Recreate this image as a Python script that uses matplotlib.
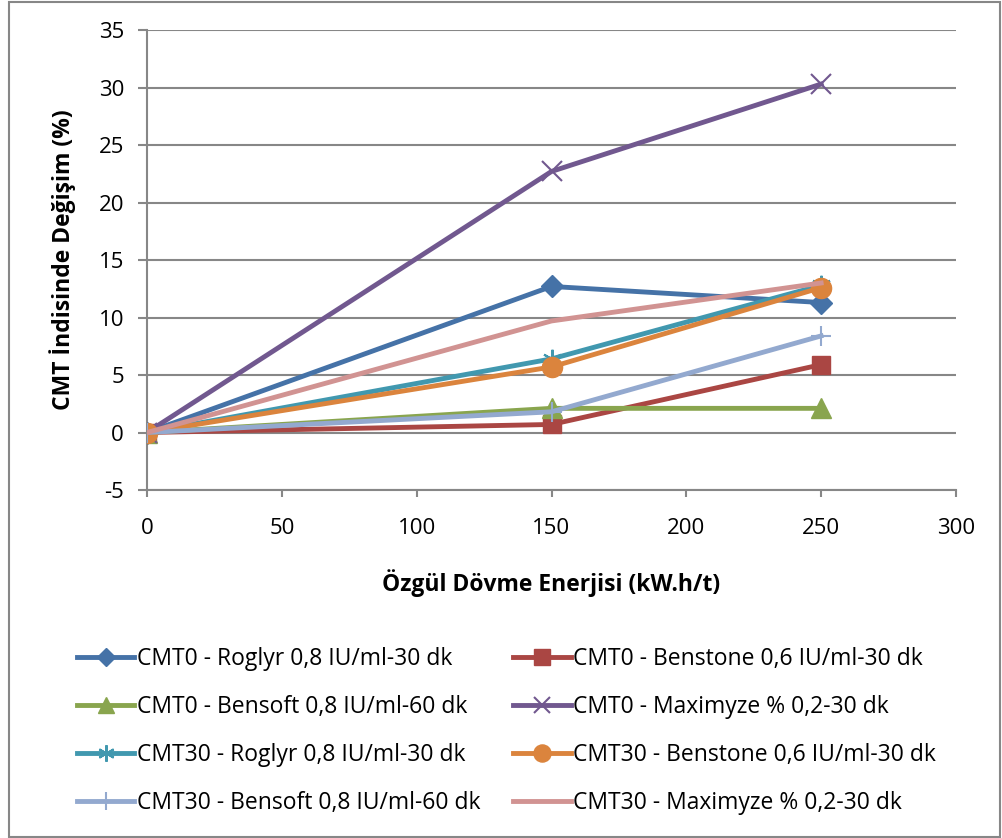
import matplotlib.pyplot as plt
from matplotlib.patches import Rectangle

plt.rcParams['font.family'] = ['Open Sans', 'DejaVu Sans']
plt.rcParams['axes.unicode_minus'] = False

# specific beating energy (kW.h/t)
energy = [0, 150, 250]

labels = [
    "CMT0 - Roglyr 0,8 IU/ml-30 dk",
    "CMT0 - Benstone 0,6 IU/ml-30 dk",
    "CMT0 - Bensoft 0,8 IU/ml-60 dk",
    "CMT0 - Maximyze % 0,2-30 dk",
    "CMT30 - Roglyr 0,8 IU/ml-30 dk",
    "CMT30 - Benstone 0,6 IU/ml-30 dk",
    "CMT30 - Bensoft 0,8 IU/ml-60 dk",
    "CMT30 - Maximyze % 0,2-30 dk",
]

cmt0_roglyr = [0, 12.7, 11.3]
cmt0_benstone = [0, 0.7, 5.9]
cmt0_bensoft = [0, 2.1, 2.1]
cmt0_maximyze = [0, 22.7, 30.3]
cmt30_roglyr = [0, 6.4, 12.8]
cmt30_benstone = [0, 5.7, 12.6]
cmt30_bensoft = [0, 1.8, 8.4]
cmt30_maximyze = [0, 9.7, 13.0]

series = [cmt0_roglyr, cmt0_benstone, cmt0_bensoft, cmt0_maximyze,
          cmt30_roglyr, cmt30_benstone, cmt30_bensoft, cmt30_maximyze]

colors = ["#4572A7", "#AA4643", "#89A54E", "#71588F",
          "#4198AF", "#DB843D", "#93A9CF", "#D19392"]
markers = ["D", "s", "^", "x", (6, 2, 0), "o", "+", None]
msizes = [11, 13, 14, 14, 14, 14.5, 15, 0]
medge = [1, 1, 1, 1.5, 1.5, 1, 1.5, 1]

fig = plt.figure(figsize=(10.03, 8.38), dpi=100)
ax = fig.add_axes([147 / 1003, 1 - 490 / 838, 809 / 1003, 460 / 838])

lines = []
for vals, lab, c, m, ms, mew in zip(series, labels, colors, markers, msizes, medge):
    ln, = ax.plot(energy, vals, color=c, lw=3.5, marker=m, markersize=ms,
                  markeredgewidth=mew, markeredgecolor=c, label=lab, zorder=3)
    lines.append(ln)

ax.set_xlim(0, 300)
ax.set_ylim(-5, 35)
ax.set_xticks(range(0, 301, 50))
ax.set_yticks(range(-5, 36, 5))
ax.yaxis.grid(True, color="#878787", lw=1.5)
ax.set_axisbelow(True)
for s in ["top", "right"]:
    ax.spines[s].set_visible(False)
for s in ["left", "bottom"]:
    ax.spines[s].set_color("#878787")
    ax.spines[s].set_linewidth(1.5)
ax.tick_params(colors="#878787", width=1.5, labelcolor="black", labelsize=16)
ax.tick_params(axis="y", length=6.5, pad=10)
ax.tick_params(axis="x", length=5, pad=15)

ax.set_xlabel("Özgül Dövme Enerjisi (kW.h/t)", fontsize=16.5, fontweight="bold",
              labelpad=22)
ax.set_ylabel("CMT İndisinde Değişim (%)", fontsize=16.5, fontweight="bold",
              labelpad=16)

# legend reads row by row like the original
order = [0, 2, 4, 6, 1, 3, 5, 7]
fig.legend([lines[i] for i in order], [labels[i] for i in order],
           loc="upper left", bbox_to_anchor=(68 / 1003, 1 - 638 / 838), ncol=2,
           frameon=False, fontsize=16.5, handlelength=2.5, handletextpad=0.1,
           columnspacing=1.45, labelspacing=1.05, borderaxespad=0,
           markerscale=0.85)

fig.patches.append(Rectangle((9 / 1003, 1 / 838), 991 / 1003, 835 / 838,
                             transform=fig.transFigure, fill=False,
                             edgecolor="#878787", lw=1.5))

fig.savefig("out.png", dpi=100)
